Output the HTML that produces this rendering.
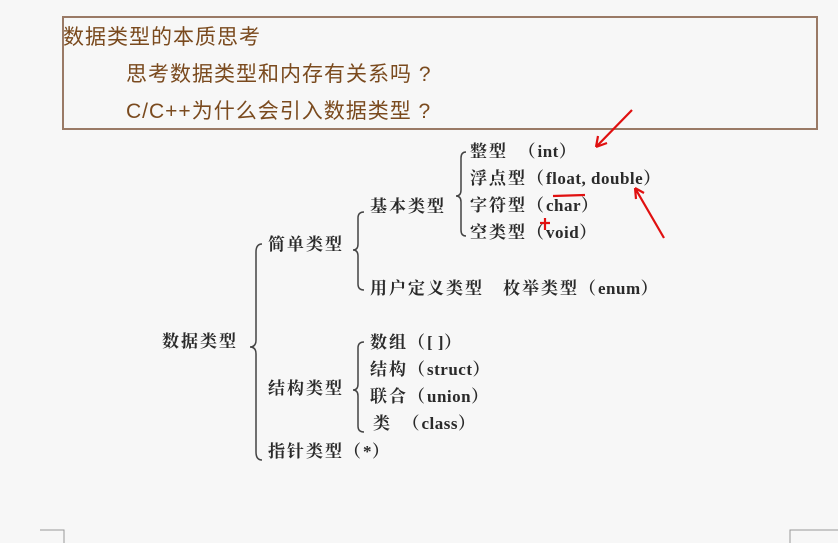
<!DOCTYPE html>
<html><head><meta charset="utf-8"><style>
body{margin:0;width:838px;height:543px;background:#f7f7f7;position:relative;overflow:hidden;font-family:"Liberation Serif","Noto Serif CJK SC",serif}
.box{position:absolute;left:62px;top:16px;width:756px;height:114px;border:2px solid #9a7a66;box-sizing:border-box}
.h{position:absolute;color:#7a4a1e;font-family:"Liberation Sans","Noto Sans CJK SC",sans-serif;font-size:21px;line-height:24px;white-space:nowrap}
.t{position:absolute;font-weight:bold;font-size:17px;letter-spacing:2px;color:#2a2a2a;line-height:20px;white-space:nowrap;transform:translateY(-10px)}
.t b{letter-spacing:0.5px}
</style></head><body>
<div class="box"></div>
<div class="h" style="left:63px;top:26px;letter-spacing:1px">数据类型的本质思考</div>
<div class="h" style="left:126px;top:63px;letter-spacing:1px">思考数据类型和内存有关系吗 ?</div>
<div class="h" style="left:126px;top:100px;letter-spacing:1px">C/C++为什么会引入数据类型 ?</div>

<div class="t" style="left:470px;top:152px">整型　（<b>int</b>）</div>
<div class="t" style="left:470px;top:179px">浮点型（<b>float, double</b>）</div>
<div class="t" style="left:470px;top:206px">字符型（<b>char</b>）</div>
<div class="t" style="left:470px;top:233px">空类型（<b>void</b>）</div>
<div class="t" style="left:370px;top:207px">基本类型</div>
<div class="t" style="left:370px;top:289px">用户定义类型　枚举类型（<b>enum</b>）</div>
<div class="t" style="left:268px;top:245px">简单类型</div>
<div class="t" style="left:162px;top:342px">数据类型</div>
<div class="t" style="left:370px;top:343px">数组（<b>[ ]</b>）</div>
<div class="t" style="left:370px;top:370px">结构（<b>struct</b>）</div>
<div class="t" style="left:370px;top:397px">联合（<b>union</b>）</div>
<div class="t" style="left:373px;top:424px">类　（<b>class</b>）</div>
<div class="t" style="left:268px;top:389px">结构类型</div>
<div class="t" style="left:268px;top:452px">指针类型（<b>*</b>）</div>

<svg width="838" height="543" style="position:absolute;left:0;top:0" fill="none" stroke="#444" stroke-width="1.5">
<path d="M262 244 Q256 244 256 252 L256 340 Q256 347 250 347 Q256 347 256 354 L256 452 Q256 460 262 460"/>
<path d="M364 212 Q358 212 358 218 L358 244 Q358 250 353 250 Q358 250 358 256 L358 284 Q358 290 364 290"/>
<path d="M466 152 Q461 152 461 158 L461 190 Q461 196 456 196 Q461 196 461 202 L461 230 Q461 236 466 236"/>
<path d="M364 342 Q358 342 358 348 L358 384 Q358 390 353 390 Q358 390 358 396 L358 426 Q358 432 364 432"/>
<g stroke="#e01010" stroke-width="2.2">
<path d="M632 110 L596 147 M596 147 L598 136 M596 147 L607 143"/>
<path d="M664 238 L635 188 M635 188 L636 199 M635 188 L644 193"/>
<path d="M553 196 L585 195"/>
<path d="M540 223 L550 223 M545 218 L545 230"/>
</g>
<g stroke="#999" stroke-width="1">
<path d="M40 530 L64 530 L64 543"/>
<path d="M790 543 L790 530 L838 530"/>
</g>
</svg>
</body></html>
